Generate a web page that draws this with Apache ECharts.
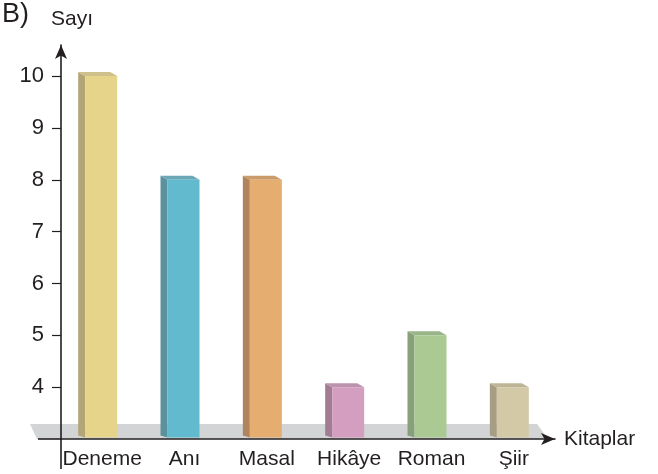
<!DOCTYPE html>
<html>
<head>
<meta charset="utf-8">
<script src="https://cdn.jsdelivr.net/npm/echarts@6/dist/echarts.min.js"></script>
<style>html,body{margin:0;padding:0;background:#fff}#c{width:658px;height:474px}</style>
</head>
<body>
<div id="c"></div>
<script>
const categories = ['Deneme', 'Anı', 'Masal', 'Hikâye', 'Roman', 'Şiir'];
const values = [10, 8, 8, 4, 5, 4];
const yTicks = [4, 5, 6, 7, 8, 9, 10];

const frontColors = ['#E7D48B', '#62BACE', '#E5AE70', '#D39EC0', '#AAC993', '#D3C9A7'];
const sideColors  = ['#B3A576', '#5A919D', '#B0845D', '#A27C92', '#86A07A', '#A69E84'];
const topColors   = ['#CFC18C', '#6CA7B6', '#CB9C6B', '#BC93AD', '#9AB588', '#BDB596'];

const FONT = "'Liberation Sans', Arial, sans-serif";
const TXT = '#231F20';
const BASE = 3;

const chart = echarts.init(document.getElementById('c'), null, {renderer: 'canvas'});
chart.setOption({
  animation: false,
  grid: {left: 61, right: 103, top: 45, bottom: 35},
  xAxis: {
    type: 'category',
    data: categories,
    name: 'Kitaplar',
    nameLocation: 'end',
    nameGap: 9,
    nameTextStyle: {fontFamily: FONT, fontSize: 21, color: TXT, verticalAlign: 'middle', padding: [0, 0, 3, 0]},
    axisLine: {show: true, symbol: ['none', 'arrow'], symbolSize: [9, 14], lineStyle: {color: TXT, width: 1.6}},
    axisTick: {show: false},
    axisLabel: {interval: 0, fontFamily: FONT, fontSize: 21, color: TXT, margin: 10},
    splitLine: {show: false}
  },
  yAxis: {
    type: 'value',
    min: BASE,
    max: 10.6,
    axisLine: {show: true, symbol: ['none', 'arrow'], symbolSize: [9, 14], lineStyle: {color: TXT, width: 1.6}},
    axisTick: {show: true, length: 9, customValues: yTicks, lineStyle: {color: TXT, width: 1.2}},
    axisLabel: {fontFamily: FONT, fontSize: 22, color: TXT, margin: 17, customValues: yTicks},
    splitLine: {show: false}
  },
  graphic: [
    {type: 'polygon', z: -10, shape: {points: [[30, 424], [537, 424], [548, 439], [37, 439]]}, style: {fill: '#D3D4D6'}},
    {type: 'line', z: 10, shape: {x1: 38, y1: 439, x2: 61, y2: 439}, style: {stroke: TXT, lineWidth: 1.6}},
    {type: 'line', z: 10, shape: {x1: 61, y1: 439, x2: 61, y2: 469}, style: {stroke: TXT, lineWidth: 1.6}},
    {type: 'text', left: 2, top: 1, style: {text: 'B)', font: '27px ' + FONT, fill: TXT}},
    {type: 'text', left: 51, top: 9, style: {text: 'Sayı', font: '21px ' + FONT, fill: TXT}}
  ],
  series: [{
    type: 'custom',
    data: values.map((v, i) => [i, v]),
    encode: {x: 0, y: 1},
    z: 5,
    renderItem: function (params, api) {
      const i = api.value(0);
      const top = api.coord([i, api.value(1)]);
      const base = api.coord([i, BASE]);
      const w = 32, d = 7, dy = 4;
      const x0 = top[0] - w / 2 - 1, x1 = x0 + w;
      const y0 = top[1], yb = base[1] - 1.5;
      return {
        type: 'group',
        children: [
          {type: 'polygon', shape: {points: [[x0 - d, y0 - dy], [x0, y0], [x0, yb], [x0 - d, yb - dy + 2]]}, style: {fill: sideColors[i]}},
          {type: 'polygon', shape: {points: [[x0 - d, y0 - dy], [x1 - d, y0 - dy], [x1, y0], [x0, y0]]}, style: {fill: topColors[i]}},
          {type: 'rect', shape: {x: x0, y: y0, width: w, height: yb - y0}, style: {fill: frontColors[i]}}
        ]
      };
    }
  }]
});
</script>
</body>
</html>
